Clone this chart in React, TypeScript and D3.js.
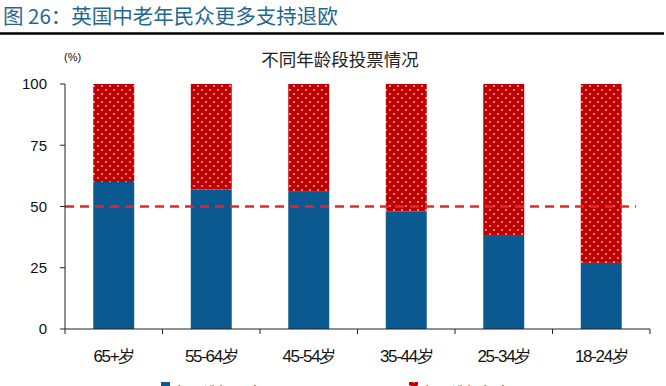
import React from "react";
import * as d3 from "d3";

const categories = ["65+岁", "55-64岁", "45-54岁", "35-44岁", "25-34岁", "18-24岁"];
const leaveValues = [60, 57, 56, 48, 38, 27];
const remainValues = [40, 43, 44, 52, 62, 73];
const yTicks = [0, 25, 50, 75, 100];
const seriesNames = ["投票选择退欧", "投票选择留欧"];
const refValue = 50;

const W = 666;
const H = 386;
const BLUE = "#0a5a91";
const RED = "#c00000";

export default function App() {
  const left = 65;
  const right = 650;
  const top = 84;
  const bottom = 329;
  const x = d3.scaleBand<string>().domain(categories).range([left, right]).paddingInner(0.58).paddingOuter(0.29);
  const xb = d3.scaleBand<string>().domain(categories).range([left, right]);
  const y = d3.scaleLinear().domain([0, 100]).range([bottom, top]);
  const font = "'Liberation Sans', Arial, sans-serif";
  const cjk = "'Noto Sans CJK SC', sans-serif";

  return (
    <svg width={W} height={H} style={{ position: "fixed", left: 0, top: 0, background: "#fff" }}>
      <defs>
        <pattern id="dots" width={8} height={8} patternUnits="userSpaceOnUse">
          <rect width={8} height={8} fill={RED} />
          <circle cx={2} cy={2} r={1.1} fill="#ff9a9a" />
          <circle cx={6} cy={6} r={1.1} fill="#ff9a9a" />
        </pattern>
      </defs>
      <rect width={W} height={H} fill="#fff" />
      <text x={3} y={24} fontFamily={cjk} fontSize={20.5} fill="#236791">图 26：英国中老年民众更多支持退欧</text>
      <line x1={0} x2={664} y1={33.5} y2={33.5} stroke="#000" strokeWidth={2.5} />
      <text x={340} y={66} textAnchor="middle" fontFamily={cjk} fontSize={17.5} fill="#222">不同年龄段投票情况</text>
      <text x={64} y={61} fontFamily={font} fontSize={11} fill="#111">(%)</text>

      {categories.map((c, i) => (
        <g key={c}>
          <rect x={x(c)} y={y(leaveValues[i])} width={x.bandwidth()} height={y(0) - y(leaveValues[i])} fill={BLUE} />
          <rect x={x(c)} y={y(leaveValues[i] + remainValues[i])} width={x.bandwidth()} height={y(leaveValues[i]) - y(leaveValues[i] + remainValues[i])} fill="url(#dots)" />
        </g>
      ))}

      <line x1={left} x2={636} y1={y(refValue)} y2={y(refValue)} stroke="#e02a2a" strokeWidth={2.5} strokeDasharray="9,6" />

      <line x1={left} x2={left} y1={top} y2={bottom} stroke="#222" strokeWidth={1} />
      {yTicks.map((t) => (
        <g key={t}>
          <line x1={left - 5} x2={left} y1={y(t)} y2={y(t)} stroke="#222" />
          <text x={47} y={y(t)} dy="0.35em" textAnchor="end" fontFamily={font} fontSize={15} fill="#111">{t}</text>
        </g>
      ))}
      <line x1={left} x2={right} y1={bottom} y2={bottom} stroke="#222" strokeWidth={1} />
      {[...categories.map((c) => xb(c) as number), right].map((v, i) => (
        <line key={i} x1={v} x2={v} y1={bottom} y2={bottom + 5} stroke="#222" />
      ))}
      {categories.map((c) => (
        <text key={c} x={(x(c) as number) + x.bandwidth() / 2} y={362} textAnchor="middle" fontFamily={font} fontSize={17} letterSpacing={-1.3} fill="#111">
          {c}
        </text>
      ))}

      <rect x={161} y={382} width={9} height={9} fill={BLUE} />
      <text x={176} y={397} fontFamily={cjk} fontSize={14} fill="#111">{seriesNames[0]}</text>
      <rect x={409} y={382} width={9} height={9} fill="url(#dots)" />
      <text x={424} y={397} fontFamily={cjk} fontSize={14} fill="#111">{seriesNames[1]}</text>
    </svg>
  );
}
